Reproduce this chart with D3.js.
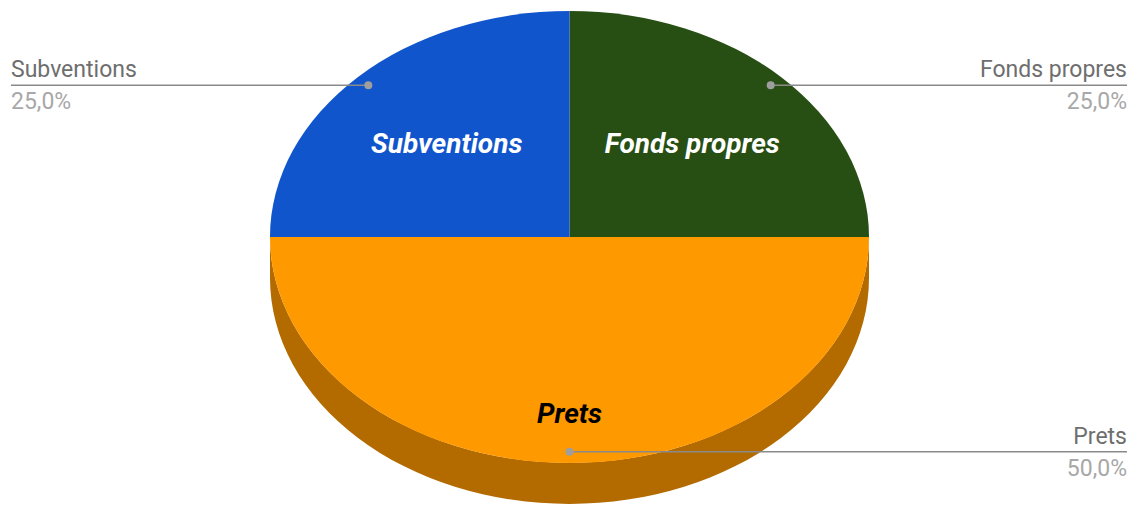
<!DOCTYPE html>
<html>
<head>
<meta charset="utf-8">
<script src="https://cdn.jsdelivr.net/npm/d3@7"></script>
<style>
  body { margin: 0; background: #fff; }
  svg { display: block; font-family: Roboto, "Noto Sans", sans-serif; }
</style>
</head>
<body>
<div id="chart"></div>
<script>
// slice order is clockwise from 12 o'clock, like the google 3d pie
var categories = ["Fonds propres", "Prets", "Subventions"];
var values = [25, 50, 25];
var percentLabels = ["25,0%", "50,0%", "25,0%"];

var colors = ["#274e13", "#ff9900", "#1155cc"];
var sideColors = ["#1b370d", "#b36b00", "#0c3c8f"];
var innerTextColors = ["#ffffff", "#000000", "#ffffff"];

var width = 1133, height = 508;
var cx = 569.5, cy = 237, rx = 299.5, ry = 226, depth = 41;

var svg = d3.select("#chart").append("svg")
    .attr("width", width)
    .attr("height", height);

var pie = d3.pie().sort(null).value(d => d.value);
var data = categories.map((c, i) => ({ name: c, value: values[i], pct: percentLabels[i], i: i }));
var arcs = pie(data);

// angle 0 = top, clockwise
function px(a, f) { return cx + rx * f * Math.sin(a); }
function py(a, f) { return cy - ry * f * Math.cos(a); }

// side walls (only the front half is visible)
var g = svg.append("g");
arcs.forEach(function(d) {
    var a0 = Math.max(d.startAngle, Math.PI / 2),
        a1 = Math.min(d.endAngle, Math.PI * 1.5);
    if (a1 <= a0) return;
    var large = (a1 - a0) > Math.PI ? 1 : 0;
    var p = "M" + px(a0, 1) + "," + py(a0, 1) +
        " A" + rx + "," + ry + " 0 " + large + " 1 " + px(a1, 1) + "," + py(a1, 1) +
        " L" + px(a1, 1) + "," + (py(a1, 1) + depth) +
        " A" + rx + "," + ry + " 0 " + large + " 0 " + px(a0, 1) + "," + (py(a0, 1) + depth) + " Z";
    g.append("path").attr("d", p).attr("fill", sideColors[d.data.i]);
});

// top faces
g.selectAll("path.top")
    .data(arcs)
    .enter()
    .append("path")
    .attr("class", "top")
    .attr("d", function(d) {
        var large = (d.endAngle - d.startAngle) > Math.PI ? 1 : 0;
        return "M" + cx + "," + cy +
            " L" + px(d.startAngle, 1) + "," + py(d.startAngle, 1) +
            " A" + rx + "," + ry + " 0 " + large + " 1 " + px(d.endAngle, 1) + "," + py(d.endAngle, 1) + " Z";
    })
    .style("fill", d => colors[d.data.i]);

// labels inside the slices
g.selectAll("text.inner")
    .data(arcs)
    .enter()
    .append("text")
    .attr("class", "inner")
    .attr("x", d => px((d.startAngle + d.endAngle) / 2, 0.58))
    .attr("y", function(d) {
        var a = (d.startAngle + d.endAngle) / 2;
        var front = Math.cos(a) < 0 ? depth - 3 : 0;
        return py(a, 0.6) + front + 12;
    })
    .attr("text-anchor", "middle")
    .style("font-size", "28px")
    .style("font-weight", "bold")
    .style("font-style", "italic")
    .style("fill", d => innerTextColors[d.data.i])
    .text(d => d.data.name);

// outside labels with leader lines
var lab = svg.append("g");
arcs.forEach(function(d) {
    var a = (d.startAngle + d.endAngle) / 2;
    var x0 = px(a, 0.95), y0 = py(a, 0.95);
    var right = Math.sin(a) > -1e-6;
    var xe = right ? width - 6 : 11;
    lab.append("line")
        .attr("x1", x0).attr("y1", y0)
        .attr("x2", xe).attr("y2", y0)
        .attr("stroke", "#8a8a8a")
        .attr("stroke-width", 1.5);
    lab.append("circle")
        .attr("cx", x0).attr("cy", y0).attr("r", 4)
        .attr("fill", "#9e9e9e");
    lab.append("text")
        .attr("x", xe).attr("y", y0 - 8)
        .attr("text-anchor", right ? "end" : "start")
        .style("font-size", "23px")
        .style("fill", "#6e6e6e")
        .text(d.data.name);
    lab.append("text")
        .attr("x", xe).attr("y", y0 + 24)
        .attr("text-anchor", right ? "end" : "start")
        .style("font-size", "23px")
        .style("fill", "#a8a8a8")
        .text(d.data.pct);
});
</script>
</body>
</html>
